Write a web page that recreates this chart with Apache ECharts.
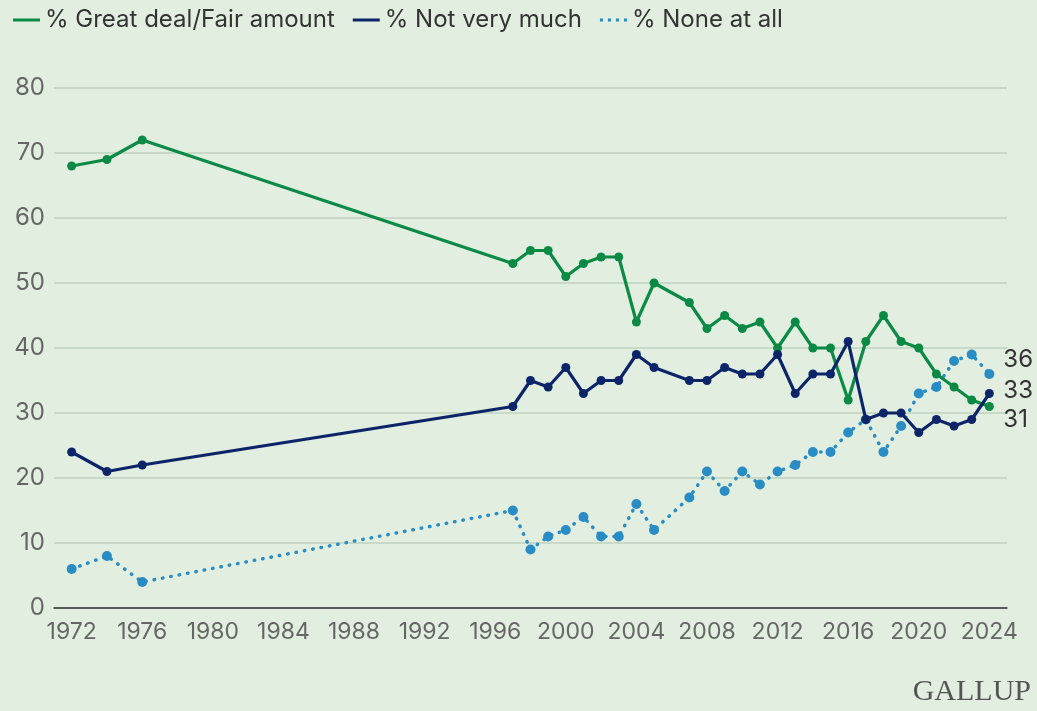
<!DOCTYPE html>
<html>
<head>
<meta charset="utf-8">
<script src="https://cdn.jsdelivr.net/npm/echarts@6/dist/echarts.min.js"></script>
<style>
  html, body { margin: 0; padding: 0; background: #e2efe0; }
  #main { width: 1037px; height: 711px; }
</style>
</head>
<body>
<div id="main"></div>
<script>
// years surveyed (no 2006)
var years = [1972, 1974, 1976, 1997, 1998, 1999, 2000, 2001, 2002, 2003, 2004, 2005,
	2007, 2008, 2009, 2010, 2011, 2012, 2013, 2014, 2015, 2016, 2017, 2018, 2019,
	2020, 2021, 2022, 2023, 2024];
var greatFair = [68, 69, 72, 53, 55, 55, 51, 53, 54, 54, 44, 50,
	47, 43, 45, 43, 44, 40, 44, 40, 40, 32, 41, 45, 41,
	40, 36, 34, 32, 31];
var notVeryMuch = [24, 21, 22, 31, 35, 34, 37, 33, 35, 35, 39, 37,
	35, 35, 37, 36, 36, 39, 33, 36, 36, 41, 29, 30, 30,
	27, 29, 28, 29, 33];
var noneAtAll = [6, 8, 4, 15, 9, 11, 12, 14, 11, 11, 16, 12,
	17, 21, 18, 21, 19, 21, 22, 24, 24, 27, 29, 24, 28,
	33, 34, 38, 39, 36];
var yearTicks = [1972, 1976, 1980, 1984, 1988, 1992, 1996, 2000, 2004, 2008, 2012, 2016, 2020, 2024];
var seriesNames = ['% Great deal/Fair amount', '% Not very much', '% None at all'];

function pairs(vals) {
	var out = [];
	for (var i = 0; i < years.length; i++) {
		out.push([years[i], vals[i]]);
	}
	return out;
}

var chart = echarts.init(document.getElementById('main'));
var font = 'Inter, "Noto Sans", sans-serif';

var option = {
	backgroundColor: '#e2efe0',
	animation: false,
	textStyle: { fontFamily: font },
	legend: {
		left: 8,
		top: 3,
		itemGap: 18,
		itemWidth: 27,
		itemHeight: 3,
		textStyle: { color: '#333', fontSize: 24, fontFamily: font },
		data: [
			{ name: seriesNames[0], icon: 'rect' },
			{ name: seriesNames[1], icon: 'rect' },
			{ name: seriesNames[2], icon: 'path://M0,0h3v3h-3zM8,0h3v3h-3zM16,0h3v3h-3zM24,0h3v3h-3z' }
		]
	},
	grid: { left: 54, right: 30, top: 88, bottom: 103 },
	xAxis: {
		type: 'value',
		min: 1971,
		max: 2025,
		interval: 1,
		axisLine: { show: true, lineStyle: { color: '#333', width: 1.5 } },
		axisTick: { show: false },
		splitLine: { show: false },
		axisLabel: {
			customValues: yearTicks,
			formatter: function (v) { return String(v); },
			color: '#666',
			fontSize: 23,
			margin: 13,
			fontFamily: font
		}
	},
	yAxis: {
		type: 'value',
		min: 0,
		max: 80,
		interval: 10,
		axisLine: { show: false },
		axisTick: { show: false },
		splitLine: { lineStyle: { color: '#c9d9c8', width: 2 } },
		axisLabel: { color: '#666', fontSize: 24, margin: 9, fontFamily: font }
	},
	graphic: [{
		type: 'text',
		right: 6,
		bottom: 4,
		style: {
			text: 'GALLUP',
			fill: '#555',
			font: '30px "Liberation Serif", serif'
		}
	}],
	series: [{
		name: seriesNames[0],
		type: 'line',
		data: pairs(greatFair),
		symbol: 'circle',
		symbolSize: 9,
		color: '#0b8a45',
		lineStyle: { width: 3.2 },
		endLabel: {
			show: true,
			formatter: function (p) { return p.value[1]; },
			color: '#333',
			fontSize: 24,
			offset: [6, 13],
			fontFamily: font
		},
		z: 3
	}, {
		name: seriesNames[1],
		type: 'line',
		data: pairs(notVeryMuch),
		symbol: 'circle',
		symbolSize: 9,
		color: '#0c2468',
		lineStyle: { width: 3.2 },
		endLabel: {
			show: true,
			formatter: function (p) { return p.value[1]; },
			color: '#333',
			fontSize: 24,
			offset: [6, -3],
			fontFamily: font
		},
		z: 4
	}, {
		name: seriesNames[2],
		type: 'line',
		data: pairs(noneAtAll),
		symbol: 'circle',
		symbolSize: 10,
		color: '#2a8cc4',
		lineStyle: { width: 3.5, type: [0.5, 8], cap: 'round' },
		endLabel: {
			show: true,
			formatter: function (p) { return p.value[1]; },
			color: '#333',
			fontSize: 24,
			offset: [6, -14],
			fontFamily: font
		},
		z: 2
	}]
};

chart.setOption(option);
</script>
</body>
</html>
